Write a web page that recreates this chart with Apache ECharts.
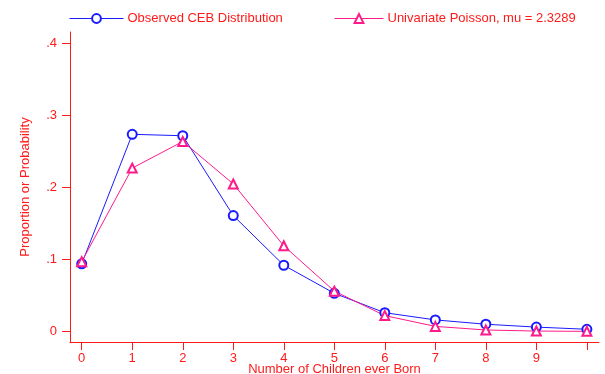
<!DOCTYPE html>
<html><head><meta charset="utf-8">
<script src="https://cdn.jsdelivr.net/npm/echarts@6/dist/echarts.min.js"></script>
<style>html,body{margin:0;padding:0;background:#fff}#c{width:605px;height:374px}</style>
</head><body><div id="c"></div>
<script>
const children = [0, 1, 2, 3, 4, 5, 6, 7, 8, 9, 10];
const observed = [0.094, 0.274, 0.272, 0.161, 0.092, 0.053, 0.026, 0.016, 0.010, 0.006, 0.003];
const poisson = [0.097, 0.227, 0.264, 0.205, 0.119, 0.056, 0.022, 0.007, 0.002, 0.0005, 0.0001];
const xTicks = [0, 1, 2, 3, 4, 5, 6, 7, 8, 9, 10];
const xTickLabels = [0, 1, 2, 3, 4, 5, 6, 7, 8, 9];
const yTicks = [0, 0.1, 0.2, 0.3, 0.4];
const yTickLabels = ['0', '.1', '.2', '.3', '.4'];

const RED = '#ff1a1a';
const BLUE = '#1a1aff';
const PINK = '#ff1a8c';
const FONT = 'Liberation Sans, Arial, sans-serif';

const chart = echarts.init(document.getElementById('c'));
chart.setOption({
  animation: false,
  backgroundColor: '#fff',
  textStyle: { fontFamily: FONT },
  grid: { left: 70, right: 6, top: 32, bottom: 32, containLabel: false, outerBoundsMode: 'none' },
  legend: [
    { data: ['Observed CEB Distribution'], left: 64, top: 7, itemWidth: 54, itemHeight: 11, itemGap: 4,
      itemStyle: { borderWidth: 1 }, lineStyle: { color: BLUE, width: 1 },
      textStyle: { color: RED, fontSize: 13, fontFamily: FONT, padding: [0, 0, 0, -1] } },
    { data: ['Univariate Poisson, mu = 2.3289'], left: 329, top: 7, itemWidth: 49, itemHeight: 11,
      itemStyle: { borderWidth: 1 }, lineStyle: { color: PINK, width: 1 },
      textStyle: { color: RED, fontSize: 13, fontFamily: FONT, padding: [0, 0, 0, -1] } }
  ],
  xAxis: {
    type: 'value', min: -0.232, max: 10.24,
    name: 'Number of Children ever Born', nameLocation: 'middle', nameGap: 21, nameMoveOverlap: false,
    nameTextStyle: { color: RED, fontSize: 13, fontFamily: FONT },
    axisLine: { show: true, onZero: false, lineStyle: { color: RED, width: 1 } },
    axisTick: { show: true, length: 8, lineStyle: { color: RED }, customValues: xTicks },
    axisLabel: { color: RED, fontSize: 13, margin: 10, customValues: xTickLabels },
    splitLine: { show: false }
  },
  yAxis: {
    type: 'value', min: -0.0147, max: 0.4162,
    name: 'Proportion or Probability', nameLocation: 'middle', nameGap: 38, nameRotate: 90, nameMoveOverlap: false,
    nameTextStyle: { color: RED, fontSize: 13, fontFamily: FONT },
    axisLine: { show: true, onZero: false, lineStyle: { color: RED, width: 1 } },
    axisTick: { show: true, length: 8, lineStyle: { color: RED }, customValues: yTicks },
    axisLabel: { color: RED, fontSize: 13, margin: 13, customValues: yTicks,
      formatter: v => { const i = yTicks.findIndex(t => Math.abs(t - v) < 1e-9); return i >= 0 ? yTickLabels[i] : ''; } },
    splitLine: { show: false }
  },
  series: [
    { name: 'Observed CEB Distribution', type: 'line',
      data: children.map((c, i) => [c, observed[i]]),
      symbol: 'emptyCircle', symbolSize: 9, clip: false,
      lineStyle: { color: BLUE, width: 1 }, itemStyle: { color: BLUE, borderWidth: 1 } },
    { name: 'Univariate Poisson, mu = 2.3289', type: 'line',
      data: children.map((c, i) => [c, poisson[i]]),
      symbol: 'emptyTriangle', symbolSize: 9, clip: false,
      lineStyle: { color: PINK, width: 1 }, itemStyle: { color: PINK, borderWidth: 1 } }
  ]
});
</script></body></html>
